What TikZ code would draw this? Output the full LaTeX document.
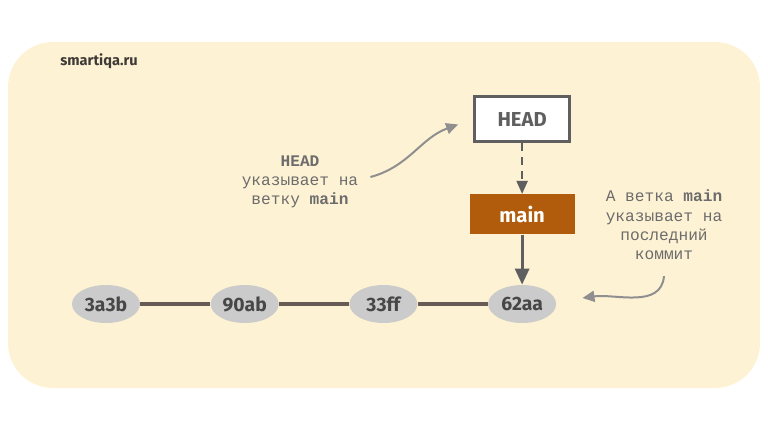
\documentclass[tikz,border=0pt]{standalone}
\usepackage{fontspec}
\setmainfont{Fira Sans}
\setmonofont{Liberation Mono}
\usetikzlibrary{arrows.meta,positioning,shapes.geometric}
\definecolor{cream}{HTML}{FEF2D4}
\definecolor{cgray}{HTML}{CBCBCB}
\definecolor{ink}{HTML}{474747}
\definecolor{edge}{HTML}{665C55}
\definecolor{branch}{HTML}{B15C0C}
\definecolor{frame}{HTML}{5F5F5F}
\definecolor{muted}{HTML}{6C6C6C}
\definecolor{hint}{HTML}{8F8F8F}
\definecolor{site}{HTML}{3E3A36}

\begin{document}
\begin{tikzpicture}[
  commit/.style={ellipse,fill=cgray,minimum width=13.6mm,minimum height=7.6mm,inner sep=0pt,font=\bfseries\fontsize{11}{13}\selectfont,text=ink},
  ref/.style={minimum width=21mm,minimum height=8mm,inner sep=0pt,font=\bfseries\fontsize{11.5}{14}\selectfont},
  link/.style={line width=0.75mm,draw=edge},
  arrow/.style={-{Triangle[length=3.2mm,width=2.8mm]},line width=0.6mm,draw=frame},
  lab/.style={font=\ttfamily\fontsize{9.2}{11}\selectfont,text=muted,align=center},
  pointer/.style={-{Triangle[length=2.4mm,width=2.2mm]},line width=0.4mm,draw=hint}
]
  \useasboundingbox (0,0) rectangle (15.36,-8.48);
  \fill[cream,rounded corners=9mm] (0.16,-0.84) rectangle (15.2,-7.76);
  \node[font=\bfseries\fontsize{8.3}{10}\selectfont,text=site] (site) at (1.98,-1.22) {smartiqa.ru};

  % commits
  \node[commit] (c1) at (2.12,-6.08) {3a3b};
  \node[commit,right=14mm of c1] (c2) {90ab};
  \node[commit,right=14mm of c2] (c3) {33ff};
  \node[commit,right=14mm of c3] (c4) {62aa};
  \draw[link] (c1) -- (c2);
  \draw[link] (c2) -- (c3);
  \draw[link] (c3) -- (c4);

  % refs
  \node[ref,fill=branch,text=white,above=10mm of c4] (main) {main};
  \node[ref,draw=frame,line width=0.6mm,fill=white,text=frame,minimum width=19mm,minimum height=9mm,above=10.1mm of main] (head) {HEAD};
  \draw[arrow,line width=0.4mm,dash pattern=on 1.6mm off 1.2mm,-{Triangle[length=2.6mm,width=2.2mm]}] (head) -- (main);
  \draw[arrow] (main) -- (c4);

  % notes
  \node[lab] (note1) at (6.0,-3.64) {\textbf{HEAD}\\указывает на\\ветку \textbf{main}};
  \node[lab] (note2) at (13.28,-4.5) {А ветка \textbf{main}\\указывает на\\последний\\коммит};
  \draw[pointer] ([shift={(1.2mm,1mm)}]note1.east) to[out=15,in=200] ([shift={(-3mm,-1mm)}]head.west);
  \draw[pointer] ([yshift=-2mm]note2.south) to[out=-95,in=8] ([shift={(5.2mm,1.2mm)}]c4.east);
\end{tikzpicture}
\end{document}
